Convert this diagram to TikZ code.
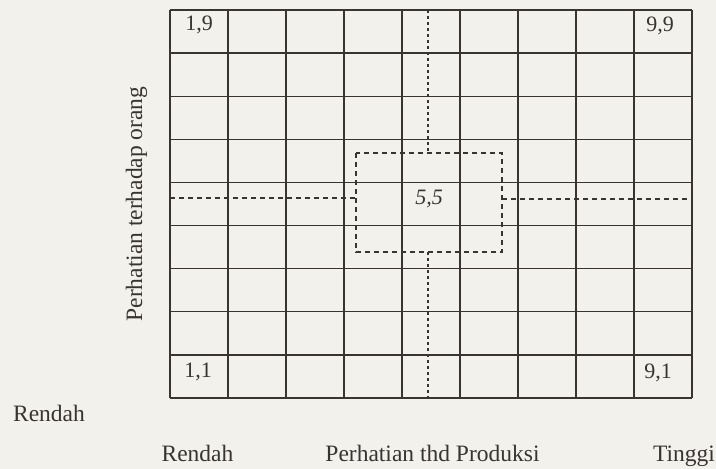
\documentclass[tikz,border=0pt]{standalone}
\usepackage{fontspec}
\setmainfont{Liberation Serif}
\definecolor{paper}{RGB}{243,241,236}
\definecolor{ink}{RGB}{55,52,50}
\begin{document}
\begin{tikzpicture}[x=1pt,y=-1pt,
  gridline/.style={draw=ink,line width=1.3pt},
  dashline/.style={draw=ink,line width=1.1pt,dash pattern=on 5pt off 4pt},
  dotline/.style={draw=ink,line width=1.1pt,dash pattern=on 3pt off 3pt},
  celllabel/.style={text=ink,font=\fontsize{22}{26}\selectfont,anchor=base,inner sep=0pt},
  axislabel/.style={text=ink,font=\fontsize{23.5}{28}\selectfont,anchor=base,inner sep=0pt}]
\fill[paper] (0,0) rectangle (716,469);
\useasboundingbox (0,0) rectangle (716,469);
% grid
\foreach \i in {0,...,9} {
  \draw[gridline] (170+58*\i,10) -- (170+58*\i,398);
  \draw[gridline] (170,10+43.111*\i) -- (692,10+43.111*\i);
}
% dashed paths
\coordinate (top) at (428,10);
\coordinate (bot) at (428,398);
\coordinate (lft) at (170,198);
\coordinate (rgt) at (692,199);
\coordinate (bxtl) at (356,153);
\coordinate (bxbr) at (502,252);
\coordinate (bxt) at (428,153);
\coordinate (bxb) at (428,252);
\coordinate (bxl) at (356,198);
\coordinate (bxr) at (502,199);
\draw[dotline] (top) -- (bxt);
\draw[dotline] (bxb) -- (bot);
\draw[dashline] (lft) -- (bxl);
\draw[dashline] (bxr) -- (rgt);
\draw[dashline] (bxtl) rectangle (bxbr);
% cell labels
\node[celllabel] (c19) at (199,30) {1,9};
\node[celllabel] (c99) at (660,31) {9,9};
\node[celllabel] (c55) at (429,204) {\textit{5,5}};
\node[celllabel] (c11) at (198,377) {1,1};
\node[celllabel] (c91) at (658,378) {9,1};
% axis labels
\node[axislabel] (rl) at (49,421) {Rendah};
\node[axislabel] (rb) at (197.5,461) {Rendah};
\node[axislabel] (xl) at (432.5,461) {Perhatian thd Produksi};
\node[axislabel] (tg) at (684,461) {Tinggi};
\node[axislabel,rotate=90] (yl) at (142,204) {Perhatian terhadap orang};
\end{tikzpicture}
\end{document}
